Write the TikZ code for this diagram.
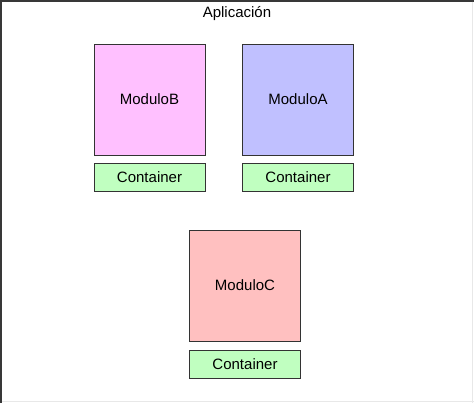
\documentclass[tikz,border=0pt]{standalone}
\usepackage{fontspec}
\setmainfont{Liberation Sans}
\definecolor{edge}{HTML}{333333}
\definecolor{pinkfill}{HTML}{FFC0FF}
\definecolor{bluefill}{HTML}{C0C0FF}
\definecolor{redfill}{HTML}{FFC0C0}
\definecolor{greenfill}{HTML}{C0FFC0}
\definecolor{frameline}{HTML}{383838}
\definecolor{paleline}{HTML}{E8E8E8}
\tikzset{
  modbox/.style={draw=edge, line width=1bp, minimum width=111bp, minimum height=111bp, inner sep=0pt, font=\fontsize{15bp}{18bp}\selectfont},
  contbox/.style={draw=edge, line width=1bp, fill=greenfill, minimum width=111bp, minimum height=28bp, inner sep=0pt, font=\fontsize{15bp}{18bp}\selectfont},
}
\begin{document}
\begin{tikzpicture}[x=1bp,y=-1bp]
\useasboundingbox (0,0) rectangle (474,403);
\fill[white] (0,0) rectangle (474,403);
% frame edges (screenshot border)
\fill[frameline] (0,0) rectangle (474,1.5);
\fill[frameline] (0,0) rectangle (2,403);
\draw[paleline, line width=1bp] (472.5,1.5) -- (472.5,403);
\draw[paleline, line width=1bp] (2,401.5) -- (474,401.5);
\node[font=\fontsize{15bp}{18bp}\selectfont] (title) at (237,14) {Aplicación};
\node[modbox, fill=pinkfill] (modB) at (149.5,99.5) {ModuloB};
\node[modbox, fill=bluefill] (modA) at (298,99.5) {ModuloA};
\node[contbox] (contB) at (149.5,177) {Container};
\node[contbox] (contA) at (298,177) {Container};
\node[modbox, fill=redfill] (modC) at (245,285.5) {ModuloC};
\node[contbox] (contC) at (245,364) {Container};
\end{tikzpicture}
\end{document}
